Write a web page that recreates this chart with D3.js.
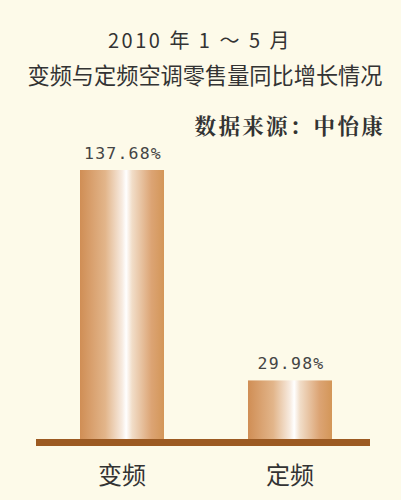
<!DOCTYPE html>
<html><head><meta charset="utf-8">
<script src="https://cdn.jsdelivr.net/npm/d3@7"></script>
<style>html,body{margin:0;padding:0;background:#fdfae9;}svg{display:block;}</style>
</head><body>
<script>
const categories = ["变频", "定频"];
const values = [137.68, 29.98];
const valueLabels = ["137.68%", "29.98%"];
const titleLines = ["2010 年 1 ～ 5 月", "变频与定频空调零售量同比增长情况"];
const sourceText = "数据来源：中怡康";

const W = 401, H = 500;
const svg = d3.select("body").append("svg").attr("width", W).attr("height", H);
svg.append("rect").attr("width", W).attr("height", H).attr("fill", "#fdfae9");

const defs = svg.append("defs");
const grad = defs.append("linearGradient").attr("id", "barGrad")
  .attr("x1", "0%").attr("x2", "100%").attr("y1", "0%").attr("y2", "0%");
[[0, "#d08e55"], [0.3, "#e2b58a"], [0.5, "#f7ebe0"], [0.55, "#ffffff"], [0.62, "#f1ddc8"], [0.85, "#dca474"], [1, "#d39658"]]
  .forEach(([o, c]) => grad.append("stop").attr("offset", o).attr("stop-color", c));

const y = d3.scaleLinear().domain([0, 137.68]).range([439, 170]);
const font = "'Noto Sans CJK SC', sans-serif";

svg.append("text").attr("x", 200).attr("y", 48).attr("text-anchor", "middle")
  .attr("font-family", font).attr("font-size", 20).attr("letter-spacing", 2.5).attr("fill", "#333")
  .attr("xml:space", "preserve").style("white-space", "pre").text(titleLines[0]);
svg.append("text").attr("x", 205).attr("y", 84).attr("text-anchor", "middle")
  .attr("font-family", font).attr("font-size", 22.2).attr("fill", "#333").text(titleLines[1]);
svg.append("text").attr("x", 385).attr("y", 134).attr("text-anchor", "end")
  .attr("font-family", "'AR PL UKai CN','Noto Serif CJK SC','Noto Sans CJK SC', serif").attr("font-weight", "bold")
  .attr("font-size", 21.5).attr("letter-spacing", 2.3).attr("fill", "#333").text(sourceText);

const bw = 84;
const cx = d3.scalePoint().domain(categories).range([122, 290]);

svg.selectAll("rect.bar").data(values).join("rect").attr("class", "bar")
  .attr("x", (d, i) => cx(categories[i]) - bw / 2)
  .attr("width", bw)
  .attr("y", d => y(d))
  .attr("height", d => y(0) - y(d))
  .attr("fill", "url(#barGrad)");

svg.append("rect").attr("x", 36).attr("y", y(0)).attr("width", 334).attr("height", 7).attr("fill", "#9c5a22");

svg.selectAll("text.val").data(values).join("text").attr("class", "val")
  .attr("x", (d, i) => cx(categories[i]) + 1)
  .attr("y", d => y(d) - 11)
  .attr("text-anchor", "middle").attr("font-family", "'DejaVu Sans Mono', monospace")
  .attr("font-size", 16.5).attr("letter-spacing", 1.2).attr("fill", "#444")
  .text((d, i) => valueLabels[i]);

svg.selectAll("text.cat").data(categories).join("text").attr("class", "cat")
  .attr("x", d => cx(d)).attr("y", 484)
  .attr("text-anchor", "middle").attr("font-family", font)
  .attr("font-size", 24).attr("fill", "#333").text(d => d);
</script>
</body></html>
